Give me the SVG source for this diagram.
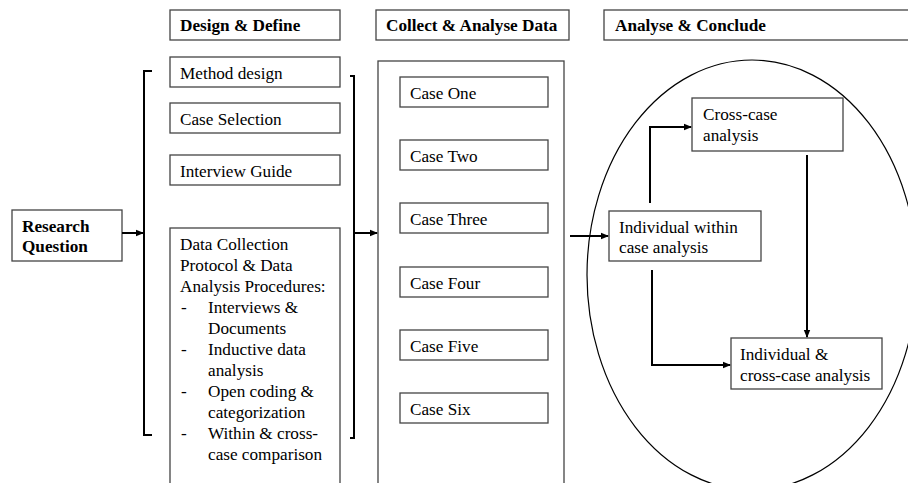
<svg xmlns="http://www.w3.org/2000/svg" width="908" height="483" viewBox="0 0 908 483">
<style>
.box{fill:#fff;stroke:#444;stroke-width:1.3}
text{font-family:'Liberation Serif','Times New Roman',Times,serif;font-size:17.2px;fill:#000}
.b{font-weight:bold}
.ln{fill:none;stroke:#000;stroke-width:2}
.thin{fill:none;stroke:#000;stroke-width:1.2}
</style>
<defs>
<marker id="ah" markerWidth="8" markerHeight="8" refX="7" refY="4" orient="auto" markerUnits="userSpaceOnUse">
<path d="M0,0.8 L8,4 L0,7.2 Z" fill="#000"/>
</marker>
</defs>
<rect width="908" height="483" fill="#fff"/>
<g id="header-design"><rect class="box" x="170" y="10" width="170" height="30"/><text class="b" x="180" y="31">Design &amp; Define</text></g>
<g id="header-collect"><rect class="box" x="376" y="10" width="193" height="30"/><text class="b" x="386" y="31">Collect &amp; Analyse Data</text></g>
<g id="header-conclude"><rect class="box" x="604" y="10" width="330" height="30"/><text class="b" x="615" y="31">Analyse &amp; Conclude</text></g>
<g id="research-question"><rect class="box" x="12" y="210" width="110" height="51"/><text class="b" x="22" y="232">Research</text><text class="b" x="22" y="252">Question</text></g>
<g id="method-design"><rect class="box" x="170" y="57" width="170" height="30"/><text x="180" y="79">Method design</text></g>
<g id="case-selection"><rect class="box" x="170" y="103" width="170" height="30"/><text x="180" y="125">Case Selection</text></g>
<g id="interview-guide"><rect class="box" x="170" y="155" width="170" height="30"/><text x="180" y="177">Interview Guide</text></g>
<g id="data-collection"><rect class="box" x="170" y="228" width="170" height="270"/>
<text x="180" y="250">Data Collection</text>
<text x="180" y="271">Protocol &amp; Data</text>
<text x="180" y="292">Analysis Procedures:</text>
<text x="181" y="313">-</text><text x="208" y="313">Interviews &amp;</text>
<text x="208" y="334">Documents</text>
<text x="181" y="355">-</text><text x="208" y="355">Inductive data</text>
<text x="208" y="376">analysis</text>
<text x="181" y="397">-</text><text x="208" y="397">Open coding &amp;</text>
<text x="208" y="418">categorization</text>
<text x="181" y="439">-</text><text x="208" y="439">Within &amp; cross-</text>
<text x="208" y="460">case comparison</text>
</g>
<g id="collect-frame"><rect class="box" x="378" y="61" width="186" height="440"/></g>
<g id="case-one"><rect class="box" x="400" y="77" width="148" height="30"/><text x="410" y="99">Case One</text></g>
<g id="case-two"><rect class="box" x="400" y="140" width="148" height="30"/><text x="410" y="162">Case Two</text></g>
<g id="case-three"><rect class="box" x="400" y="203" width="148" height="30"/><text x="410" y="225">Case Three</text></g>
<g id="case-four"><rect class="box" x="400" y="267" width="148" height="30"/><text x="410" y="289">Case Four</text></g>
<g id="case-five"><rect class="box" x="400" y="330" width="148" height="30"/><text x="410" y="352">Case Five</text></g>
<g id="case-six"><rect class="box" x="400" y="393" width="148" height="30"/><text x="410" y="415">Case Six</text></g>
<g id="analysis-ellipse"><ellipse class="thin" cx="752" cy="275" rx="165" ry="215"/></g>
<g id="cross-case"><rect class="box" x="692" y="98" width="151" height="53"/><text x="703" y="120">Cross-case</text><text x="703" y="141">analysis</text></g>
<g id="individual-within"><rect class="box" x="609" y="211" width="152" height="50"/><text x="619" y="233">Individual within</text><text x="619" y="253">case analysis</text></g>
<g id="individual-cross"><rect class="box" x="731" y="338" width="151" height="51"/><text x="740" y="360">Individual &amp;</text><text x="740" y="381">cross-case analysis</text></g>
<g id="connectors">
<path class="ln" d="M152,71 H144 V435 H152"/>
<path class="ln" d="M350,76 H354 V438 H350"/>
<path class="ln" d="M122,233 H143" marker-end="url(#ah)"/>
<path class="ln" d="M355,233 H377" marker-end="url(#ah)"/>
<path class="ln" d="M570,236 H608" marker-end="url(#ah)"/>
<path class="ln" d="M650,203 V127 H691" marker-end="url(#ah)"/>
<path class="ln" d="M807,155 V337" marker-end="url(#ah)"/>
<path class="ln" d="M652,270 V365 H730" marker-end="url(#ah)"/>
</g>
</svg>
